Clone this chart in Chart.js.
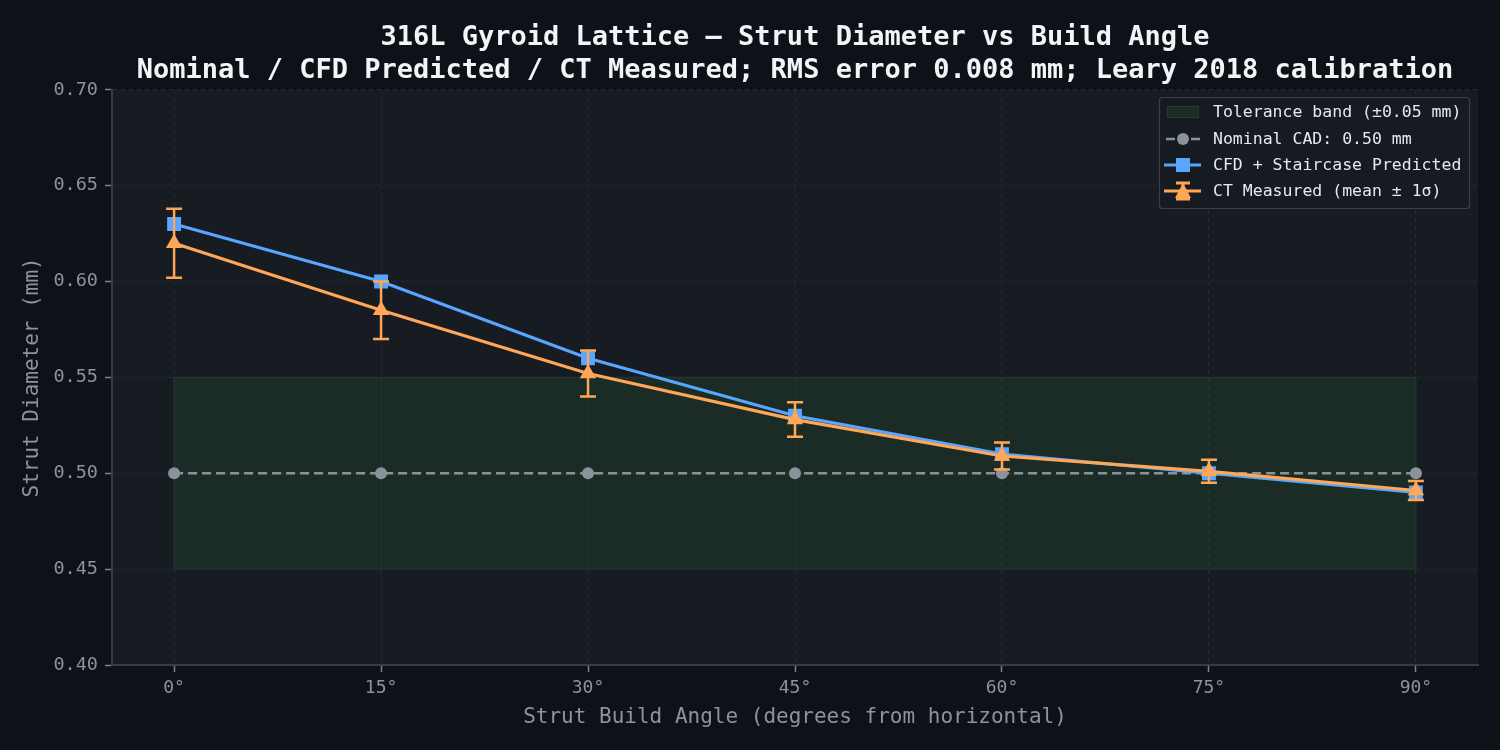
<!DOCTYPE html>
<html><head><meta charset="utf-8">
<script src="https://cdn.jsdelivr.net/npm/chart.js@4.4.1/dist/chart.umd.min.js"></script>
<style>html,body{margin:0;padding:0;background:#0e1117;}#wrap{width:1500px;height:750px;}</style>
</head><body><div id="wrap"><canvas id="c" width="1500" height="750"></canvas></div>
<script>
const angles = [0, 15, 30, 45, 60, 75, 90];
const xTickValues = [0, 15, 30, 45, 60, 75, 90];
const nominal = [0.50, 0.50, 0.50, 0.50, 0.50, 0.50, 0.50];
const cfdPredicted = [0.630, 0.600, 0.560, 0.530, 0.510, 0.500, 0.490];
const ctMeasured = [0.620, 0.585, 0.552, 0.528, 0.509, 0.501, 0.491];
const ctSigma = [0.018, 0.015, 0.012, 0.009, 0.007, 0.006, 0.005];
const bandX = [0, 0, 90, 90, 0];
const bandY = [0.45, 0.55, 0.55, 0.45, 0.45];
const yTickValues = [0.40, 0.45, 0.50, 0.55, 0.60, 0.65, 0.70];

const FONT = "'DejaVu Sans Mono', monospace";
const C_CFD = '#58a6ff', C_CT = '#ffa657', C_NOM = '#8b929c';
const pts = (xs, ys) => xs.map((x, i) => ({x: x, y: ys[i]}));

const bgPlugin = {
  id: 'bg',
  beforeDraw(chart) {
    const {ctx, chartArea: a} = chart;
    ctx.save();
    ctx.fillStyle = '#0e1117';
    ctx.fillRect(0, 0, chart.width, chart.height);
    ctx.fillStyle = '#171b22';
    ctx.fillRect(a.left, a.top, a.right - a.left, a.bottom - a.top);
    ctx.restore();
  }
};

const errPlugin = {
  id: 'errbars',
  beforeDatasetDraw(chart, args) {
    if (chart.data.datasets[args.index].label !== 'CT Measured (mean ± 1σ)') return;
    const {ctx, scales: {x, y}} = chart;
    ctx.save();
    ctx.strokeStyle = C_CT;
    ctx.lineWidth = 2.5;
    angles.forEach((a, i) => {
      const px = x.getPixelForValue(a);
      const yt = y.getPixelForValue(ctMeasured[i] + ctSigma[i]);
      const yb = y.getPixelForValue(ctMeasured[i] - ctSigma[i]);
      ctx.beginPath();
      ctx.moveTo(px, yt); ctx.lineTo(px, yb);
      ctx.moveTo(px - 8, yt); ctx.lineTo(px + 8, yt);
      ctx.moveTo(px - 8, yb); ctx.lineTo(px + 8, yb);
      ctx.stroke();
    });
    ctx.restore();
  }
};

const legendPlugin = {
  id: 'customLegend',
  afterDraw(chart) {
    const ctx = chart.ctx;
    const x0 = 1159, y0 = 97, w = 310, h = 111;
    ctx.save();
    ctx.fillStyle = 'rgba(22,27,34,0.92)';
    ctx.strokeStyle = '#3a3f47';
    ctx.lineWidth = 1.2;
    ctx.beginPath();
    ctx.roundRect(x0 + 0.5, y0 + 0.5, w, h, 3);
    ctx.fill(); ctx.stroke();
    const items = [
      {label: chart.data.datasets[3].label, kind: 'band'},
      {label: chart.data.datasets[2].label, kind: 'nom'},
      {label: chart.data.datasets[1].label, kind: 'cfd'},
      {label: chart.data.datasets[0].label, kind: 'ct'}
    ];
    const rows = [112, 139, 165, 191];
    const ix0 = 1166, ix1 = 1200, icx = 1183;
    ctx.font = '16.5px ' + FONT;
    ctx.textBaseline = 'middle';
    items.forEach((it, i) => {
      const cy = rows[i];
      if (it.kind === 'band') {
        ctx.fillStyle = '#1c2d27';
        ctx.strokeStyle = '#253c30';
        ctx.lineWidth = 1;
        ctx.fillRect(ix0 + 1, cy - 6, 32, 12);
        ctx.strokeRect(ix0 + 1.5, cy - 5.5, 31, 11);
      } else if (it.kind === 'nom') {
        ctx.strokeStyle = C_NOM; ctx.lineWidth = 2.5;
        ctx.beginPath(); ctx.moveTo(ix0, cy); ctx.lineTo(ix0 + 9, cy);
        ctx.moveTo(ix1 - 9, cy); ctx.lineTo(ix1, cy); ctx.stroke();
        ctx.fillStyle = C_NOM;
        ctx.beginPath(); ctx.arc(icx, cy, 6, 0, Math.PI * 2); ctx.fill();
      } else if (it.kind === 'cfd') {
        ctx.strokeStyle = C_CFD; ctx.lineWidth = 3;
        ctx.beginPath(); ctx.moveTo(ix0 - 2, cy); ctx.lineTo(ix1 + 1, cy); ctx.stroke();
        ctx.fillStyle = C_CFD; ctx.fillRect(icx - 7, cy - 7, 14, 14);
      } else {
        ctx.strokeStyle = C_CT; ctx.lineWidth = 3;
        ctx.beginPath(); ctx.moveTo(ix0 - 2, cy); ctx.lineTo(ix1 + 1, cy);
        ctx.moveTo(icx, cy - 8); ctx.lineTo(icx, cy + 8);
        ctx.moveTo(icx - 7, cy - 8); ctx.lineTo(icx + 7, cy - 8);
        ctx.moveTo(icx - 7, cy + 8); ctx.lineTo(icx + 7, cy + 8);
        ctx.stroke();
        ctx.fillStyle = C_CT;
        ctx.beginPath(); ctx.moveTo(icx, cy - 8); ctx.lineTo(icx + 8, cy + 7); ctx.lineTo(icx - 8, cy + 7); ctx.closePath(); ctx.fill();
      }
      ctx.fillStyle = '#e6e9ee';
      ctx.fillText(it.label, 1213, cy + 1);
    });
    ctx.restore();
  }
};

new Chart(document.getElementById('c'), {
  type: 'line',
  data: {
    datasets: [
      {
        label: 'CT Measured (mean ± 1σ)', data: pts(angles, ctMeasured),
        borderColor: C_CT, backgroundColor: C_CT, borderWidth: 3.2,
        pointStyle: 'triangle', pointRadius: 9.5, pointHoverRadius: 9.5, pointBorderWidth: 0, order: 0
      },
      {
        label: 'CFD + Staircase Predicted', data: pts(angles, cfdPredicted),
        borderColor: C_CFD, backgroundColor: C_CFD, borderWidth: 3.2,
        pointStyle: 'rect', pointRadius: 9.8, pointHoverRadius: 9.8, pointBorderWidth: 0, order: 1
      },
      {
        label: 'Nominal CAD: 0.50 mm', data: pts(angles, nominal),
        borderColor: C_NOM, backgroundColor: C_NOM, borderWidth: 2.5, borderDash: [9, 5],
        pointStyle: 'circle', pointRadius: 6, pointHoverRadius: 6, pointBorderWidth: 0, order: 2
      },
      {
        label: 'Tolerance band (±0.05 mm)', data: pts(bandX, bandY),
        borderColor: '#233629', borderWidth: 1.2, pointRadius: 0, tension: 0,
        backgroundColor: 'rgba(63,185,80,0.11)', fill: 'shape', order: 3
      }
    ]
  },
  options: {
    responsive: false, animation: false,
    layout: {padding: {left: 20, right: 22, top: 0, bottom: 20}},
    plugins: {
      legend: {display: false},
      tooltip: {enabled: false},
      title: {
        display: true, fullSize: false,
        text: ['316L Gyroid Lattice — Strut Diameter vs Build Angle',
               'Nominal / CFD Predicted / CT Measured; RMS error 0.008 mm; Leary 2018 calibration'],
        color: '#f2f4f7', font: {family: FONT, size: 27, weight: 'bold', lineHeight: 1.2},
        padding: {top: 22, bottom: 3}
      }
    },
    scales: {
      x: {
        type: 'linear', min: -4.5, max: 94.5,
        afterBuildTicks: (axis) => { axis.ticks = xTickValues.map(v => ({value: v})); },
        afterFit: (axis) => { axis.height = 65; },
        ticks: {color: '#8d939b', font: {family: FONT, size: 18}, padding: 6,
                callback: (v) => v + '°', maxRotation: 0},
        grid: {color: '#262b33', tickColor: '#7d838c', tickLength: 7, tickBorderDash: [], tickWidth: 1.5, lineWidth: 1},
        border: {display: true, color: '#363b44', width: 2, dash: [4, 4]},
        title: {display: true, text: 'Strut Build Angle (degrees from horizontal)', color: '#8d939b',
                font: {family: FONT, size: 21}, padding: {top: 2, bottom: 0}}
      },
      y: {
        min: 0.40, max: 0.70,
        afterBuildTicks: (axis) => { axis.ticks = yTickValues.map(v => ({value: v})); },
        afterFit: (axis) => { axis.width = 92; },
        ticks: {color: '#8d939b', font: {family: FONT, size: 18.5}, padding: 7,
                callback: (v) => Number(v).toFixed(2)},
        grid: {color: '#262b33', tickColor: '#7d838c', tickLength: 7, tickBorderDash: [], tickWidth: 1.5, lineWidth: 1},
        border: {display: true, color: '#363b44', width: 2, dash: [4, 4]},
        title: {display: true, text: 'Strut Diameter (mm)', color: '#8d939b',
                font: {family: FONT, size: 21}, padding: {top: 0, bottom: 0}}
      }
    }
  },
  plugins: [bgPlugin, errPlugin, legendPlugin]
});
</script></body></html>
